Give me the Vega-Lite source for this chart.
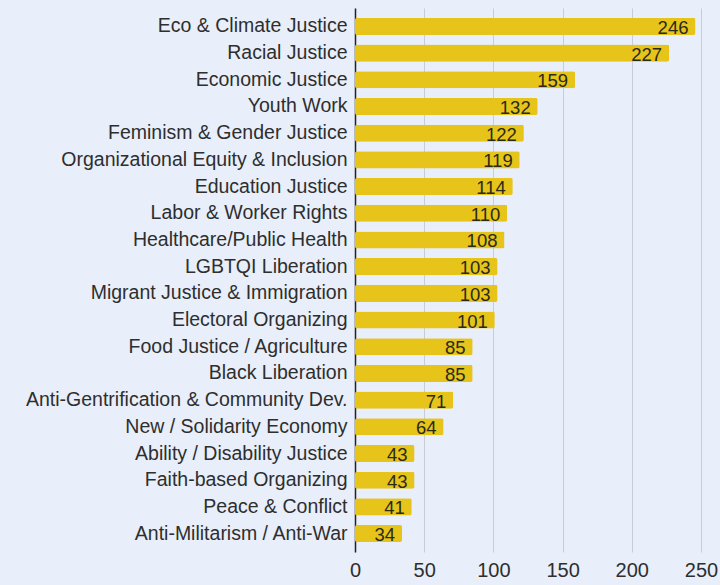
{
  "$schema": "https://vega.github.io/schema/vega-lite/v6.json",
  "width": 346,
  "height": 544,
  "autosize": {"type": "none"},
  "padding": {"left": 355, "top": 8, "right": 19, "bottom": 33},
  "background": "#e8eefa",
  "config": {"view": {"stroke": null}, "font": "Liberation Sans"},
  "data": {"values": [
    {"topic": "Eco & Climate Justice", "count": 246},
    {"topic": "Racial Justice", "count": 227},
    {"topic": "Economic Justice", "count": 159},
    {"topic": "Youth Work", "count": 132},
    {"topic": "Feminism & Gender Justice", "count": 122},
    {"topic": "Organizational Equity & Inclusion", "count": 119},
    {"topic": "Education Justice", "count": 114},
    {"topic": "Labor & Worker Rights", "count": 110},
    {"topic": "Healthcare/Public Health", "count": 108},
    {"topic": "LGBTQI Liberation", "count": 103},
    {"topic": "Migrant Justice & Immigration", "count": 103},
    {"topic": "Electoral Organizing", "count": 101},
    {"topic": "Food Justice / Agriculture", "count": 85},
    {"topic": "Black Liberation", "count": 85},
    {"topic": "Anti-Gentrification & Community Dev.", "count": 71},
    {"topic": "New / Solidarity Economy", "count": 64},
    {"topic": "Ability / Disability Justice", "count": 43},
    {"topic": "Faith-based Organizing", "count": 43},
    {"topic": "Peace & Conflict", "count": 41},
    {"topic": "Anti-Militarism / Anti-War", "count": 34}
  ]},
  "encoding": {
    "y": {"field": "topic", "type": "nominal", "sort": null,
      "scale": {"paddingInner": 0.36, "paddingOuter": 0.37},
      "axis": {"title": null, "ticks": false, "labelFontSize": 19.5, "labelColor": "#2e2e2e", "labelPadding": 8, "domainColor": "#222", "domainWidth": 1.5, "labelLimit": 400}},
    "x": {"field": "count", "type": "quantitative",
      "scale": {"domain": [0, 250], "nice": false},
      "axis": {"title": null, "values": [0, 50, 100, 150, 200, 250], "ticks": false, "domain": false, "grid": true, "gridColor": "#c8ccd4", "labelFontSize": 20, "labelColor": "#2e2e2e", "labelPadding": 8, "labelFlush": false}}
  },
  "layer": [
    {"mark": {"type": "bar", "color": "#e6c41a", "cornerRadius": 2}},
    {"mark": {"type": "text", "align": "right", "dx": -7, "dy": 1.5, "fontSize": 18.5, "color": "#2a2a1a"},
      "encoding": {"text": {"field": "count", "type": "quantitative"}}}
  ]
}
